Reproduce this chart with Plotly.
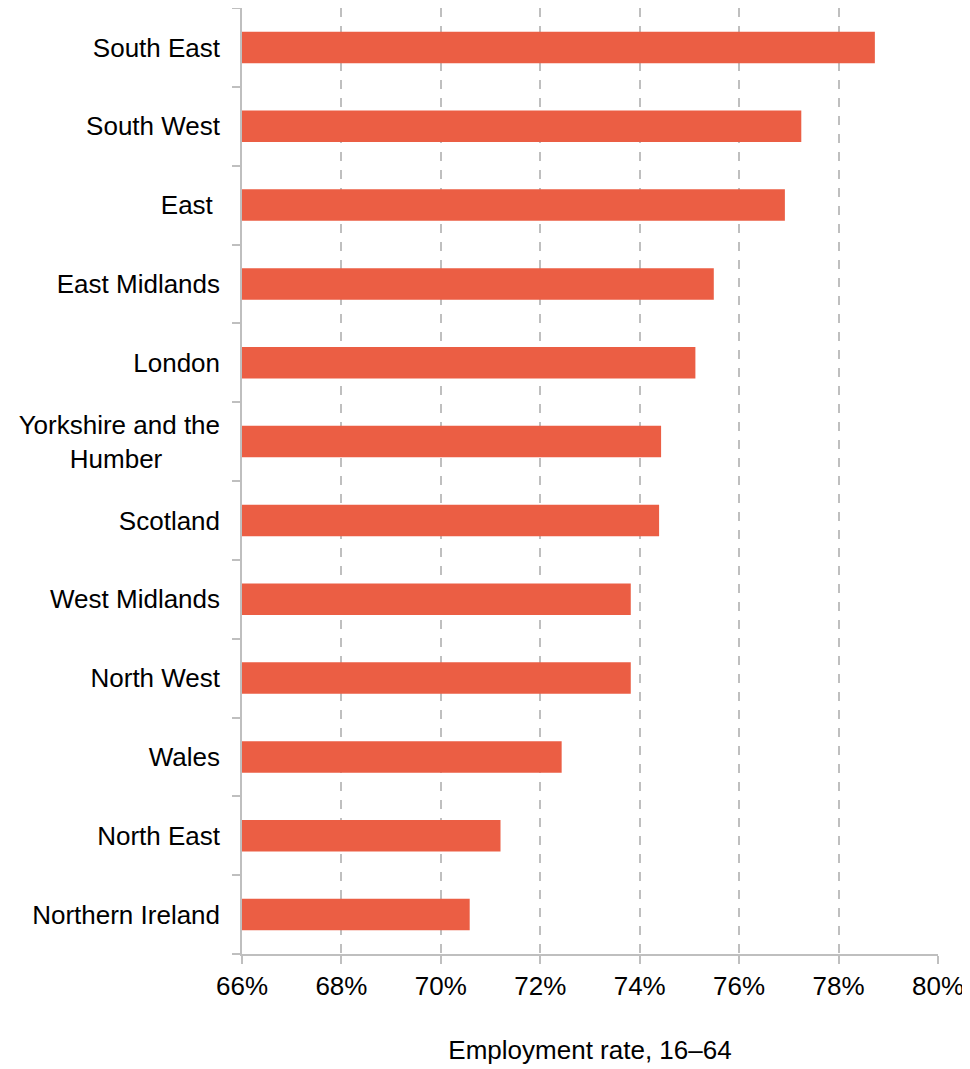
import plotly.graph_objects as go

# regiões e taxa de emprego (16-64), de cima para baixo
regioes = ["South East", "South West", "East\u00a0", "East Midlands", "London",
           "Yorkshire and the<br>Humber" + "\u00a0" * 8, "Scotland", "West Midlands",
           "North West", "Wales", "North East", "Northern Ireland"]
taxa = [78.73, 77.25, 76.92, 75.49, 75.12, 74.43, 74.39, 73.82, 73.82, 72.43, 71.20, 70.58]

eixo_ticks = [66, 68, 70, 72, 74, 76, 78, 80]
eixo_labels = ["66%", "68%", "70%", "72%", "74%", "76%", "78%", "80%"]

cor_barra = "#EB5E44"
cor_eixo = "#BFBFBF"

fig = go.Figure(go.Bar(
    y=regioes,
    x=taxa,
    base=0,
    orientation="h",
    width=0.4,
    marker=dict(color=cor_barra, line=dict(width=0)),
    hovertemplate="%{y}: %{x:.1f}%<extra></extra>",
))

# a página tem margem de 8px, por isso a figura é um pouco menor
fig.update_layout(
    width=962, height=1061,
    margin=dict(l=234, r=32, t=0, b=115),
    paper_bgcolor="white", plot_bgcolor="white",
    font=dict(family="Liberation Sans, Arial, sans-serif", size=26, color="#000000"),
    showlegend=False,
    bargap=0.6,
)

fig.update_xaxes(
    range=[66, 80],
    tickvals=eixo_ticks, ticktext=eixo_labels,
    showgrid=True, gridcolor=cor_eixo, griddash="dash", gridwidth=1.5,
    showline=True, linecolor=cor_eixo, linewidth=1.5,
    ticks="outside", ticklen=8, tickcolor=cor_eixo, tickwidth=1.5,
    zeroline=False, automargin=False,
    title=dict(text="Employment rate, 16\u201364", standoff=41, font=dict(size=26)),
)

fig.update_yaxes(
    categoryorder="array", categoryarray=regioes[::-1],
    tickson="boundaries",
    showgrid=False, automargin=False,
    showline=True, linecolor=cor_eixo, linewidth=1.5,
    ticks="outside", ticklen=8, tickcolor=cor_eixo, tickwidth=1.5,
    ticklabelstandoff=15,
)

fig.write_html("out.html")
